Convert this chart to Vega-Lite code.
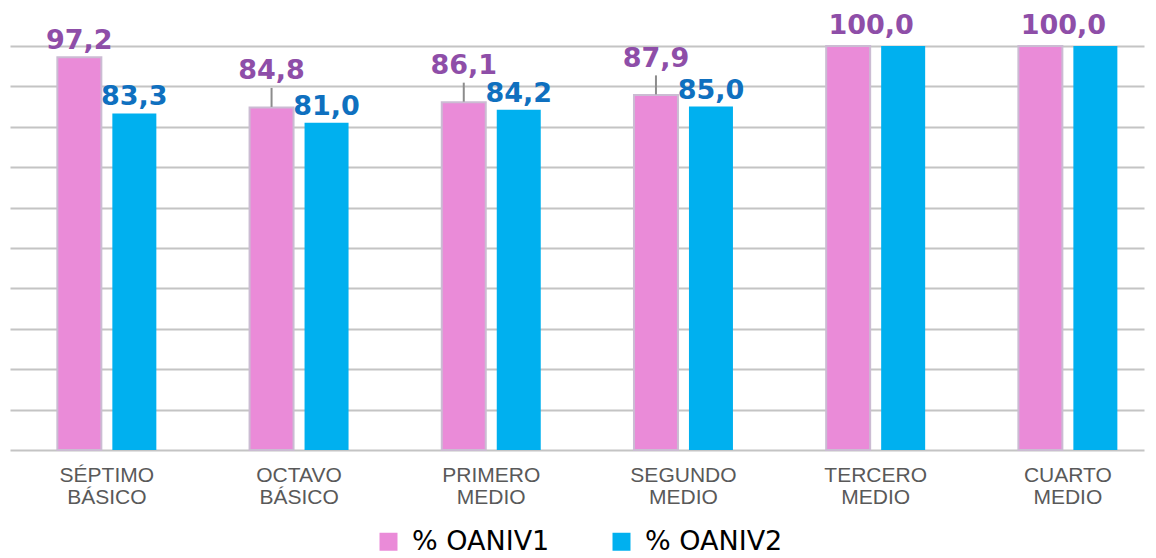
{
  "$schema": "https://vega.github.io/schema/vega-lite/v6.json",
  "autosize": {"type": "none"},
  "width": 1134,
  "height": 404,
  "padding": {"left": 10, "top": 46, "right": 12, "bottom": 108},
  "config": {
    "view": {"stroke": null},
    "locale": {"number": {"decimal": ",", "thousands": ".", "grouping": [3], "currency": ["", ""]}}
  },
  "data": {
    "values": [
      {"curso": "SÉPTIMO BÁSICO", "serie": "% OANIV1", "valor": 97.2},
      {"curso": "SÉPTIMO BÁSICO", "serie": "% OANIV2", "valor": 83.3},
      {"curso": "OCTAVO BÁSICO", "serie": "% OANIV1", "valor": 84.8},
      {"curso": "OCTAVO BÁSICO", "serie": "% OANIV2", "valor": 81.0},
      {"curso": "PRIMERO MEDIO", "serie": "% OANIV1", "valor": 86.1},
      {"curso": "PRIMERO MEDIO", "serie": "% OANIV2", "valor": 84.2},
      {"curso": "SEGUNDO MEDIO", "serie": "% OANIV1", "valor": 87.9},
      {"curso": "SEGUNDO MEDIO", "serie": "% OANIV2", "valor": 85.0},
      {"curso": "TERCERO MEDIO", "serie": "% OANIV1", "valor": 100.0},
      {"curso": "TERCERO MEDIO", "serie": "% OANIV2", "valor": 100.0},
      {"curso": "CUARTO MEDIO", "serie": "% OANIV1", "valor": 100.0},
      {"curso": "CUARTO MEDIO", "serie": "% OANIV2", "valor": 100.0}
    ]
  },
  "encoding": {
    "x": {
      "field": "curso", "type": "nominal", "sort": null,
      "scale": {"paddingInner": 0.485, "paddingOuter": 0.1925, "align": 0.64},
      "axis": {
        "title": null, "domain": false, "ticks": false, "labelAngle": 0,
        "labelExpr": "split(datum.label, ' ')",
        "labelFont": "Liberation Sans", "labelFontSize": 21, "labelColor": "#595959",
        "labelLineHeight": 22, "labelPadding": 14
      }
    },
    "xOffset": {"field": "serie", "type": "nominal", "scale": {"paddingInner": 0.2, "paddingOuter": 0}},
    "y": {
      "field": "valor", "type": "quantitative",
      "scale": {"domain": [0, 100], "nice": false},
      "axis": {
        "title": null, "domain": false, "ticks": false, "labels": false,
        "values": [0, 10, 20, 30, 40, 50, 60, 70, 80, 90, 100],
        "grid": true, "gridColor": "#c4c4c4", "gridWidth": 2
      }
    }
  },
  "layer": [
    {
      "mark": {"type": "bar"},
      "encoding": {
        "color": {
          "field": "serie", "type": "nominal",
          "scale": {"domain": ["% OANIV1", "% OANIV2"], "range": ["#EA8BD8", "#00B0EF"]},
          "legend": {
            "title": null, "orient": "none", "legendX": 365, "legendY": 482,
            "direction": "horizontal",
            "symbolType": "square", "symbolSize": 324,
            "symbolOpacity": 1, "symbolStrokeWidth": 1.5,
            "labelFont": "DejaVu Sans", "labelFontSize": 27, "labelColor": "#000000",
            "labelOffset": 10, "columnPadding": 58, "labelLimit": 300,
            "encode": {
              "symbols": {
                "update": {
                  "stroke": {"signal": "datum.value === '% OANIV1' ? '#cbbcd3' : '#00B0EF'"}
                }
              }
            }
          }
        },
        "stroke": {
          "condition": {"test": "datum.serie === '% OANIV1'", "value": "#cbbcd3"},
          "value": null
        },
        "strokeWidth": {"value": 2}
      }
    },
    {
      "transform": [{"filter": "datum.serie === '% OANIV1' && datum.valor > 84 && datum.valor < 90"}],
      "mark": {"type": "tick", "orient": "vertical", "color": "#8c8c8c", "thickness": 2, "size": 19, "opacity": 1, "yOffset": -10}
    },
    {
      "transform": [{"filter": "!(datum.serie === '% OANIV1' && datum.valor > 84 && datum.valor < 90) && datum.valor < 100"}],
      "mark": {"type": "text", "font": "DejaVu Sans", "fontWeight": "bold", "fontSize": 27, "baseline": "alphabetic", "dy": -8},
      "encoding": {
        "text": {"field": "valor", "type": "quantitative", "format": ".1f"},
        "color": {
          "condition": {"test": "datum.serie === '% OANIV1'", "value": "#8E4EA8"},
          "value": "#0F70BF"
        }
      }
    },
    {
      "transform": [{"filter": "datum.serie === '% OANIV1' && datum.valor > 84 && datum.valor < 90"}],
      "mark": {"type": "text", "font": "DejaVu Sans", "fontWeight": "bold", "fontSize": 27, "baseline": "alphabetic", "dy": -28, "color": "#8E4EA8"},
      "encoding": {
        "text": {"field": "valor", "type": "quantitative", "format": ".1f"}
      }
    },
    {
      "transform": [{"filter": "datum.serie === '% OANIV1' && datum.valor === 100"}],
      "mark": {"type": "text", "font": "DejaVu Sans", "fontWeight": "bold", "fontSize": 27, "baseline": "alphabetic", "dy": -12, "dx": 23, "color": "#8E4EA8"},
      "encoding": {
        "text": {"field": "valor", "type": "quantitative", "format": ".1f"}
      }
    }
  ]
}
